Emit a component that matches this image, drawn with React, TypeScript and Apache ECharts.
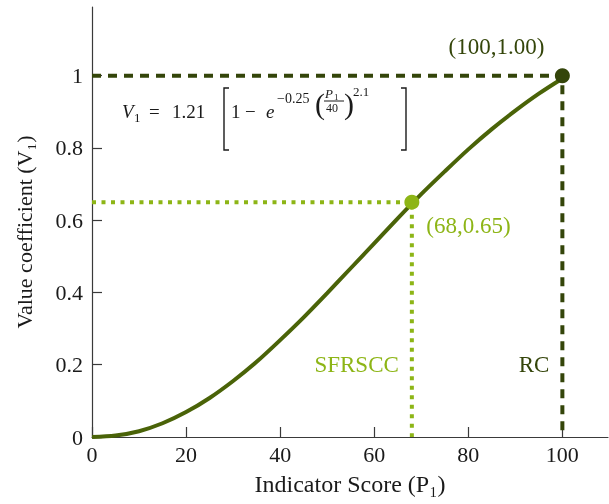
import React, { useEffect, useRef } from "react";
import * as echarts from "echarts";

// Value function curve V1(P1), sampled every 5 points of indicator score
const scoreP = [0, 5, 10, 15, 20, 25, 30, 35, 40, 45, 50, 55, 60, 65, 70, 75, 80, 85, 90, 95, 100];
const valueV = [
  0, 0.004, 0.016, 0.038, 0.069, 0.108, 0.155, 0.208, 0.268, 0.331, 0.398,
  0.467, 0.536, 0.605, 0.672, 0.735, 0.796, 0.852, 0.903, 0.95, 0.992,
];

// Axis ticks
const xTicks = [0, 20, 40, 60, 80, 100];
const yTicks = [0, 0.2, 0.4, 0.6, 0.8, 1];

// Reference points: self-compacting concrete vs. reference concrete
const refNames = ["SFRSCC", "RC"];
const refScore = [68, 100];
const refValue = [0.65, 1.0];
const tagLevel = 0.2;

const SERIF = '"Liberation Serif", "Times New Roman", serif';
const DARK = "#34450a";
const CURVE = "#4a6308";
const LIGHT = "#8db516";
const INK = "#1a1a1a";
const AXIS = "#3a3a3a";

function formulaGraphics() {
  const t = (x: number, y: number, text: string, size: number, italic = false) => ({
    type: "text",
    x,
    y,
    silent: true,
    style: {
      text,
      font: `${italic ? "italic " : ""}${size}px ${SERIF}`,
      fill: INK,
      align: "left",
      verticalAlign: "middle",
    },
  });
  return [
    t(122, 111, "V", 19, true),
    t(134, 117, "1", 13),
    t(149, 111, "=", 19),
    t(172, 111, "1.21", 19),
    {
      type: "polyline",
      silent: true,
      shape: { points: [[229, 88], [224, 88], [224, 150], [229, 150]] },
      style: { stroke: INK, lineWidth: 1.4, fill: null },
    },
    t(231, 111, "1", 19),
    t(245, 111, "\u2212", 19),
    t(266, 111, "e", 19, true),
    t(277, 98, "\u22120.25", 14),
    t(315, 103, "(", 30),
    t(325, 93, "P", 13, true),
    t(334, 97, "1", 9),
    {
      type: "line",
      silent: true,
      shape: { x1: 324, y1: 101, x2: 344, y2: 101 },
      style: { stroke: INK, lineWidth: 1 },
    },
    t(326, 108, "40", 12),
    t(344, 103, ")", 30),
    t(353, 91, "2.1", 13),
    {
      type: "polyline",
      silent: true,
      shape: { points: [[401, 88], [406, 88], [406, 150], [401, 150]] },
      style: { stroke: INK, lineWidth: 1.4, fill: null },
    },
  ];
}

export default function App() {
  const ref = useRef<HTMLDivElement>(null);

  useEffect(() => {
    if (!ref.current) return;
    const chart = echarts.init(ref.current, null, { renderer: "svg" });

    const curveData = scoreP.map((p, i) => [p, valueV[i]]);
    const guide = (i: number) => [
      [0, refValue[i]],
      [refScore[i], refValue[i]],
      [refScore[i], 0],
    ];

    chart.setOption({
      animation: false,
      grid: { left: 92, right: 1, top: 7, bottom: 67, containLabel: false },
      xAxis: {
        type: "value",
        min: 0,
        max: 109.7,
        interval: 20,
        name: "Indicator Score (P\u2081)",
        nameLocation: "middle",
        nameGap: 35,
        nameTextStyle: { fontFamily: SERIF, fontSize: 24, color: INK },
        axisLine: { show: true, lineStyle: { color: AXIS, width: 1.2 } },
        axisTick: {
          show: true,
          inside: true,
          length: 10,
          customValues: xTicks,
          lineStyle: { color: AXIS, width: 1.2 },
        },
        axisLabel: {
          customValues: xTicks,
          margin: 6,
          fontFamily: SERIF,
          fontSize: 22,
          color: INK,
        },
        splitLine: { show: false },
      },
      yAxis: {
        type: "value",
        min: 0,
        max: 1.19,
        interval: 0.2,
        name: "Value coefficient (V\u2081)",
        nameLocation: "middle",
        nameGap: 57,
        nameTextStyle: {
          fontFamily: SERIF,
          fontSize: 22,
          color: INK,
          padding: [0, 20, 0, 0],
        },
        axisLine: { show: true, lineStyle: { color: AXIS, width: 1.2 } },
        axisTick: {
          show: true,
          inside: true,
          length: 10,
          customValues: yTicks,
          lineStyle: { color: AXIS, width: 1.2 },
        },
        axisLabel: {
          customValues: yTicks,
          margin: 9,
          fontFamily: SERIF,
          fontSize: 22,
          color: INK,
        },
        splitLine: { show: false },
      },
      graphic: formulaGraphics(),
      series: [
        {
          name: "RC guide",
          type: "line",
          data: guide(1),
          symbol: "none",
          silent: true,
          z: 1,
          lineStyle: { color: DARK, width: 4, type: [9, 7], cap: "butt" },
        },
        {
          name: "SFRSCC guide",
          type: "line",
          data: guide(0),
          symbol: "none",
          silent: true,
          z: 1,
          lineStyle: { color: LIGHT, width: 4, type: [4, 5.5], cap: "butt" },
        },
        {
          name: "V1",
          type: "line",
          data: curveData,
          symbol: "none",
          smooth: 0.3,
          z: 2,
          lineStyle: { color: CURVE, width: 4 },
        },
        {
          name: "points",
          type: "scatter",
          z: 3,
          symbolSize: 15,
          itemStyle: { opacity: 1 },
          data: refNames.map((n, i) => ({
            name: n,
            value: [refScore[i], refValue[i]],
            itemStyle: { color: i === 0 ? LIGHT : DARK, opacity: 1 },
            label: {
              show: true,
              position: i === 0 ? "right" : "top",
              distance: i === 0 ? 7 : 5,
              offset: i === 0 ? [0, 23] : [-66, -5],
              color: i === 0 ? LIGHT : DARK,
              opacity: 1,
              fontFamily: SERIF,
              fontSize: 23,
              formatter: `(${refScore[i]},${refValue[i].toFixed(2)})`,
            },
          })),
        },
        {
          name: "tags",
          type: "scatter",
          z: 3,
          symbolSize: 0,
          silent: true,
          itemStyle: { opacity: 1 },
          data: refNames.map((n, i) => ({
            name: n,
            value: [refScore[i], tagLevel],
            label: {
              show: true,
              position: "left",
              distance: 13,
              color: i === 0 ? LIGHT : DARK,
              opacity: 1,
              fontFamily: SERIF,
              fontSize: 23,
              formatter: n,
            },
          })),
        },
      ],
    });

    return () => chart.dispose();
  }, []);

  return (
    <div
      ref={ref}
      style={{ position: "fixed", left: 0, top: 0, width: 609, height: 504 }}
    />
  );
}
